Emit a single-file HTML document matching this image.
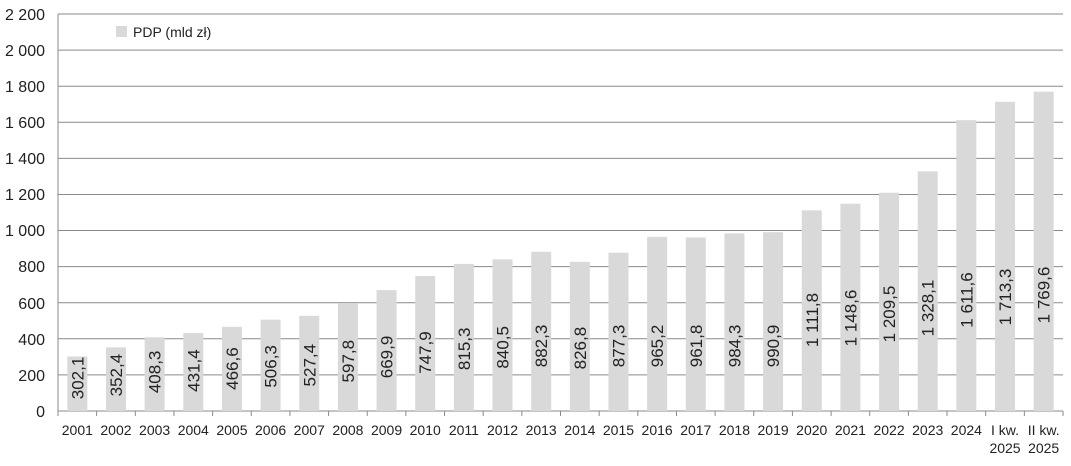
<!DOCTYPE html>
<html><head><meta charset="utf-8"><style>body{margin:0;background:#fff}</style></head><body>
<svg width="1071" height="461" xmlns="http://www.w3.org/2000/svg" font-family="Liberation Sans, sans-serif" font-size="14" fill="#222">
<g stroke="#8a8a8a" stroke-width="1">
<line x1="58" x2="1063" y1="411" y2="411"/><line x1="58" x2="1063" y1="374.9" y2="374.9"/><line x1="58" x2="1063" y1="338.8" y2="338.8"/><line x1="58" x2="1063" y1="302.7" y2="302.7"/><line x1="58" x2="1063" y1="266.6" y2="266.6"/><line x1="58" x2="1063" y1="230.5" y2="230.5"/><line x1="58" x2="1063" y1="194.5" y2="194.5"/><line x1="58" x2="1063" y1="158.4" y2="158.4"/><line x1="58" x2="1063" y1="122.3" y2="122.3"/><line x1="58" x2="1063" y1="86.2" y2="86.2"/><line x1="58" x2="1063" y1="50.1" y2="50.1"/><line x1="58" x2="1063" y1="14" y2="14"/>
<line x1="58" x2="58" y1="14" y2="416"/>
<line x1="96.65" x2="96.65" y1="411" y2="416"/><line x1="135.31" x2="135.31" y1="411" y2="416"/><line x1="173.96" x2="173.96" y1="411" y2="416"/><line x1="212.62" x2="212.62" y1="411" y2="416"/><line x1="251.27" x2="251.27" y1="411" y2="416"/><line x1="289.92" x2="289.92" y1="411" y2="416"/><line x1="328.58" x2="328.58" y1="411" y2="416"/><line x1="367.23" x2="367.23" y1="411" y2="416"/><line x1="405.88" x2="405.88" y1="411" y2="416"/><line x1="444.54" x2="444.54" y1="411" y2="416"/><line x1="483.19" x2="483.19" y1="411" y2="416"/><line x1="521.85" x2="521.85" y1="411" y2="416"/><line x1="560.5" x2="560.5" y1="411" y2="416"/><line x1="599.15" x2="599.15" y1="411" y2="416"/><line x1="637.81" x2="637.81" y1="411" y2="416"/><line x1="676.46" x2="676.46" y1="411" y2="416"/><line x1="715.12" x2="715.12" y1="411" y2="416"/><line x1="753.77" x2="753.77" y1="411" y2="416"/><line x1="792.42" x2="792.42" y1="411" y2="416"/><line x1="831.08" x2="831.08" y1="411" y2="416"/><line x1="869.73" x2="869.73" y1="411" y2="416"/><line x1="908.38" x2="908.38" y1="411" y2="416"/><line x1="947.04" x2="947.04" y1="411" y2="416"/><line x1="985.69" x2="985.69" y1="411" y2="416"/><line x1="1024.35" x2="1024.35" y1="411" y2="416"/><line x1="1063" x2="1063" y1="411" y2="416"/>
</g>
<g font-size="16" text-anchor="end">
<text x="45" y="417">0</text><text x="45" y="381">200</text><text x="45" y="345">400</text><text x="45" y="309">600</text><text x="45" y="272">800</text><text x="45" y="236">1 000</text><text x="45" y="200">1 200</text><text x="45" y="164">1 400</text><text x="45" y="128">1 600</text><text x="45" y="92">1 800</text><text x="45" y="56">2 000</text><text x="45" y="20">2 200</text>
</g>
<g fill="#d9d9d9">
<rect x="67.33" y="356.48" width="20" height="54.52"/>
<rect x="105.98" y="347.41" width="20" height="63.59"/>
<rect x="144.63" y="337.32" width="20" height="73.68"/>
<rect x="183.29" y="333.15" width="20" height="77.85"/>
<rect x="221.94" y="326.8" width="20" height="84.2"/>
<rect x="260.6" y="319.64" width="20" height="91.36"/>
<rect x="299.25" y="315.83" width="20" height="95.17"/>
<rect x="337.9" y="303.12" width="20" height="107.88"/>
<rect x="376.56" y="290.11" width="20" height="120.89"/>
<rect x="415.21" y="276.04" width="20" height="134.96"/>
<rect x="453.87" y="263.88" width="20" height="147.12"/>
<rect x="492.52" y="259.33" width="20" height="151.67"/>
<rect x="531.17" y="251.78" width="20" height="159.22"/>
<rect x="569.83" y="261.8" width="20" height="149.2"/>
<rect x="608.48" y="252.69" width="20" height="158.31"/>
<rect x="647.13" y="236.82" width="20" height="174.18"/>
<rect x="685.79" y="237.44" width="20" height="173.56"/>
<rect x="724.44" y="233.38" width="20" height="177.62"/>
<rect x="763.1" y="232.19" width="20" height="178.81"/>
<rect x="801.75" y="210.37" width="20" height="200.63"/>
<rect x="840.4" y="203.73" width="20" height="207.27"/>
<rect x="879.06" y="192.74" width="20" height="218.26"/>
<rect x="917.71" y="171.34" width="20" height="239.66"/>
<rect x="956.37" y="120.18" width="20" height="290.82"/>
<rect x="995.02" y="101.83" width="20" height="309.17"/>
<rect x="1033.67" y="91.67" width="20" height="319.33"/>
</g>
<g font-size="17" text-anchor="middle">
<text transform="translate(83.33,378) rotate(-90)">302,1</text>
<text transform="translate(121.98,375.1) rotate(-90)">352,4</text>
<text transform="translate(160.63,371.9) rotate(-90)">408,3</text>
<text transform="translate(199.29,370.6) rotate(-90)">431,4</text>
<text transform="translate(237.94,368.6) rotate(-90)">466,6</text>
<text transform="translate(276.6,366.4) rotate(-90)">506,3</text>
<text transform="translate(315.25,365.2) rotate(-90)">527,4</text>
<text transform="translate(353.9,361.2) rotate(-90)">597,8</text>
<text transform="translate(392.56,357) rotate(-90)">669,9</text>
<text transform="translate(431.21,352.6) rotate(-90)">747,9</text>
<text transform="translate(469.87,348.8) rotate(-90)">815,3</text>
<text transform="translate(508.52,347.3) rotate(-90)">840,5</text>
<text transform="translate(547.17,346) rotate(-90)">882,3</text>
<text transform="translate(585.83,348.1) rotate(-90)">826,8</text>
<text transform="translate(624.48,346) rotate(-90)">877,3</text>
<text transform="translate(663.13,346) rotate(-90)">965,2</text>
<text transform="translate(701.79,346) rotate(-90)">961,8</text>
<text transform="translate(740.44,346) rotate(-90)">984,3</text>
<text transform="translate(779.1,346) rotate(-90)">990,9</text>
<text transform="translate(817.75,320) rotate(-90)">1 111,8</text>
<text transform="translate(856.4,318) rotate(-90)">1 148,6</text>
<text transform="translate(895.06,314) rotate(-90)">1 209,5</text>
<text transform="translate(933.71,308) rotate(-90)">1 328,1</text>
<text transform="translate(972.37,300) rotate(-90)">1 611,6</text>
<text transform="translate(1011.02,297) rotate(-90)">1 713,3</text>
<text transform="translate(1049.67,295) rotate(-90)">1 769,6</text>
</g>
<g text-anchor="middle">
<text x="77.33" y="435">2001</text><text x="115.98" y="435">2002</text><text x="154.63" y="435">2003</text><text x="193.29" y="435">2004</text><text x="231.94" y="435">2005</text><text x="270.6" y="435">2006</text><text x="309.25" y="435">2007</text><text x="347.9" y="435">2008</text><text x="386.56" y="435">2009</text><text x="425.21" y="435">2010</text><text x="463.87" y="435">2011</text><text x="502.52" y="435">2012</text><text x="541.17" y="435">2013</text><text x="579.83" y="435">2014</text><text x="618.48" y="435">2015</text><text x="657.13" y="435">2016</text><text x="695.79" y="435">2017</text><text x="734.44" y="435">2018</text><text x="773.1" y="435">2019</text><text x="811.75" y="435">2020</text><text x="850.4" y="435">2021</text><text x="889.06" y="435">2022</text><text x="927.71" y="435">2023</text><text x="966.37" y="435">2024</text>
<text x="1005.02" y="435">I kw.</text><text x="1005.02" y="453">2025</text>
<text x="1043.67" y="435">II kw.</text><text x="1043.67" y="453">2025</text>
</g>
<rect x="116" y="26" width="11" height="11" fill="#d9d9d9"/>
<text x="133" y="37">PDP (mld zł)</text>
</svg>
</body></html>
